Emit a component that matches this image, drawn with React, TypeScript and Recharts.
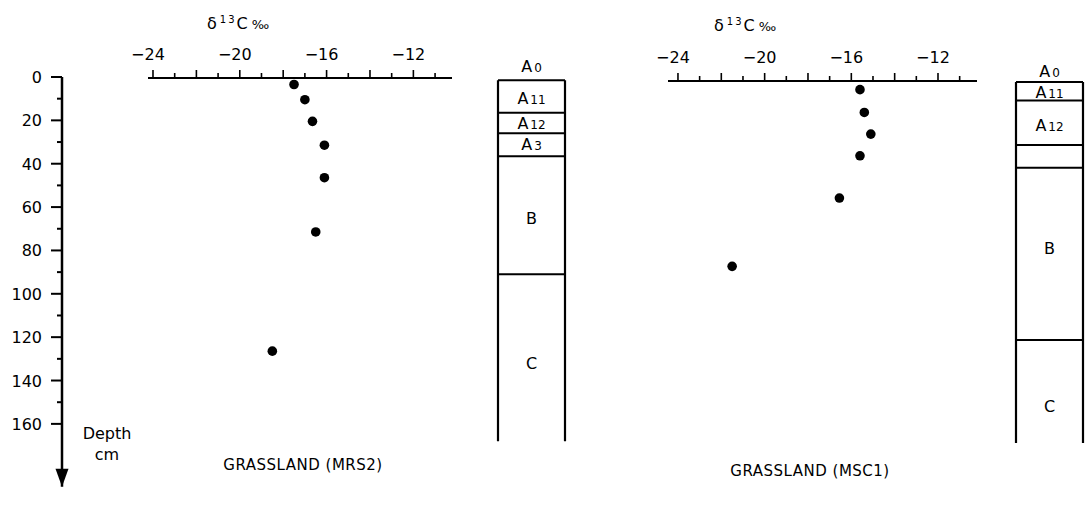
import React from 'react';
import { ScatterChart, Scatter, XAxis, YAxis, ReferenceLine } from 'recharts';

const FONT = '"DejaVu Sans", Arial, sans-serif';

// axes
const isotopeTicks = [-24, -23, -22, -21, -20, -19, -18, -17, -16, -15, -14, -13, -12, -11];
const isotopeLabels = [-24, -20, -16, -12];
const depthTicks = [0, 10, 20, 30, 40, 50, 60, 70, 80, 90, 100, 110, 120, 130, 140, 150, 160];
const depthLabels = [0, 20, 40, 60, 80, 100, 120, 140, 160];

// grassland MRS2
const mrs2Depth = [3, 10, 20, 31, 46, 71, 126];
const mrs2Delta = [-17.5, -17.0, -16.65, -16.1, -16.1, -16.5, -18.5];
const mrs2Bounds = [1.5, 16.5, 26, 36.5, 91];
const mrs2Bottom = 168;
const mrs2LabelNames = ['A0', 'A11', 'A12', 'A3', 'B', 'C'];
const mrs2LabelDepths = [-5, 9.7, 21, 31, 65, 132];

// grassland MSC1
const msc1Depth = [4, 14.5, 24.5, 34.5, 54, 85.5];
const msc1Delta = [-15.6, -15.4, -15.1, -15.6, -16.55, -21.5];
const msc1Bounds = [0.5, 9, 29.5, 40, 119.5];
const msc1Bottom = 167;
const msc1LabelNames = ['A0', 'A11', 'A12', 'B', 'C'];
const msc1LabelDepths = [-4.5, 5, 20.5, 77, 150];

const W = 1085;
const H = 506;
const PX = 2.168; // px per cm
const DEPTH_MAX = 189;
const PLOT_H = DEPTH_MAX * PX;
const BOX_MIN = -12;

const XTick = (props: any) => {
    const { x, y, payload } = props;
    const v = payload.value;
    const len = v % 2 === 0 ? 8 : 5;
    const labelled = isotopeLabels.includes(v);
    return (
        <g>
            <line x1={x} x2={x} y1={y} y2={y - len} stroke="#000" strokeWidth={1.6} />
            {labelled && (
                <text x={x - 5} y={y - 18} textAnchor="middle" fontSize={16} fontFamily={FONT} fill="#000">
                    {'\u2212' + Math.abs(v)}
                </text>
            )}
        </g>
    );
};

const DepthTick = (props: any) => {
    const { x, y, payload } = props;
    const v = payload.value;
    const labelled = depthLabels.includes(v);
    return (
        <g>
            <line x1={x - (labelled ? 11 : 5)} x2={x} y1={y} y2={y} stroke="#000" strokeWidth={2} />
            {labelled && (
                <text x={x - 20} y={y + 6} textAnchor="end" fontSize={16} fontFamily={FONT} fill="#000">
                    {v}
                </text>
            )}
        </g>
    );
};

function DepthAxis() {
    const zeroY = 77;
    return (
        <div style={{ position: 'absolute', left: 0, top: 0 }}>
            <ScatterChart width={140} height={H} margin={{ top: zeroY, left: 0, right: 10, bottom: H - zeroY - PLOT_H }}>
                <XAxis type="number" dataKey="x" domain={[0, 1]} hide height={0} />
                <YAxis
                    type="number"
                    dataKey="depth"
                    domain={[0, DEPTH_MAX]}
                    reversed
                    width={62}
                    ticks={depthTicks}
                    interval={0}
                    tick={DepthTick}
                    tickSize={0}
                    tickMargin={0}
                    tickLine={false}
                    axisLine={{ stroke: '#000', strokeWidth: 2.5 }}
                />
                <Scatter
                    data={[{ x: 0, depth: DEPTH_MAX }]}
                    isAnimationActive={false}
                    shape={(p: any) => (
                        <polygon points={`${p.cx - 6.5},${p.cy - 18} ${p.cx + 6.5},${p.cy - 18} ${p.cx},${p.cy}`} fill="#000" />
                    )}
                />
            </ScatterChart>
        </div>
    );
}

function ProfilePanel({ chartLeft, chartWidth, plotLeft, plotRight, zeroY, domain, depth, delta }: any) {
    const data = depth.map((d: number, i: number) => ({ depth: d, delta: delta[i] }));
    return (
        <div style={{ position: 'absolute', left: chartLeft, top: 0 }}>
            <ScatterChart
                width={chartWidth}
                height={H}
                margin={{ top: zeroY - 30, left: plotLeft - chartLeft, right: chartLeft + chartWidth - plotRight, bottom: H - zeroY - PLOT_H }}
            >
                <XAxis
                    type="number"
                    dataKey="delta"
                    orientation="top"
                    height={30}
                    domain={domain}
                    allowDataOverflow
                    ticks={isotopeTicks}
                    interval={0}
                    tick={XTick}
                    tickSize={0}
                    tickMargin={0}
                    tickLine={false}
                    axisLine={{ stroke: '#000', strokeWidth: 2 }}
                />
                <YAxis type="number" dataKey="depth" domain={[0, DEPTH_MAX]} reversed hide width={0} allowDataOverflow />
                <Scatter
                    data={data}
                    isAnimationActive={false}
                    shape={(p: any) => <circle cx={p.cx} cy={p.cy} r={4.8} fill="#000" />}
                />
            </ScatterChart>
        </div>
    );
}

function HorizonBox({ chartLeft, boxLeft, boxRight, zeroY, bounds, bottom, names, labelDepths }: any) {
    const chartWidth = boxRight - chartLeft + 20;
    const top = zeroY + BOX_MIN * PX;
    const plotH = (DEPTH_MAX - BOX_MIN) * PX;
    const labels = names.map((n: string, i: number) => ({ name: n, x: 0.5, depth: labelDepths[i] }));
    return (
        <div style={{ position: 'absolute', left: chartLeft, top: 0 }}>
            <ScatterChart
                width={chartWidth}
                height={H}
                margin={{ top, left: boxLeft - chartLeft, right: chartLeft + chartWidth - boxRight, bottom: H - top - plotH }}
            >
                <XAxis type="number" dataKey="x" domain={[0, 1]} hide height={0} />
                <YAxis type="number" dataKey="depth" domain={[BOX_MIN, DEPTH_MAX]} reversed hide width={0} />
                {bounds.map((b: number, i: number) => (
                    <ReferenceLine key={'h' + i} segment={[{ x: 0, y: b }, { x: 1, y: b }]} stroke="#000" strokeWidth={2} />
                ))}
                <ReferenceLine segment={[{ x: 0, y: bounds[0] }, { x: 0, y: bottom }]} stroke="#000" strokeWidth={2.2} />
                <ReferenceLine segment={[{ x: 1, y: bounds[0] }, { x: 1, y: bottom }]} stroke="#000" strokeWidth={2.2} />
                <Scatter
                    data={labels}
                    isAnimationActive={false}
                    shape={(p: any) => {
                        const name: string = p.payload.name;
                        const head = name.slice(0, 1);
                        const rest = name.slice(1);
                        return (
                            <text x={p.cx} y={p.cy + 6} textAnchor="middle" fontFamily={FONT} fill="#000">
                                <tspan fontSize={16}>{head}</tspan>
                                {rest && <tspan fontSize={12} dx={2}>{rest}</tspan>}
                            </text>
                        );
                    }}
                />
            </ScatterChart>
        </div>
    );
}

function Title({ left, top }: { left: number; top: number }) {
    return (
        <div style={{ position: 'absolute', left, top, fontFamily: FONT, fontSize: 16, lineHeight: '20px', whiteSpace: 'nowrap' }}>
            δ<span style={{ fontSize: 10, verticalAlign: 6, letterSpacing: 2, marginLeft: 3 }}>13</span>C
            <span style={{ fontSize: 13, marginLeft: 4 }}>‰</span>
        </div>
    );
}

export default function App() {
    return (
        <div style={{ position: 'absolute', left: 0, top: 0, width: W, height: H, background: '#fff', overflow: 'hidden' }}>
            <DepthAxis />
            <ProfilePanel
                chartLeft={100}
                chartWidth={380}
                plotLeft={148}
                plotRight={452}
                zeroY={78}
                domain={[-24.23, -10.22]}
                depth={mrs2Depth}
                delta={mrs2Delta}
            />
            <HorizonBox
                chartLeft={470}
                boxLeft={498}
                boxRight={565}
                zeroY={77}
                bounds={mrs2Bounds}
                bottom={mrs2Bottom}
                names={mrs2LabelNames}
                labelDepths={mrs2LabelDepths}
            />
            <ProfilePanel
                chartLeft={620}
                chartWidth={380}
                plotLeft={668}
                plotRight={977}
                zeroY={81}
                domain={[-24.46, -10.2]}
                depth={msc1Depth}
                delta={msc1Delta}
            />
            <HorizonBox
                chartLeft={990}
                boxLeft={1016}
                boxRight={1083}
                zeroY={81}
                bounds={msc1Bounds}
                bottom={msc1Bottom}
                names={msc1LabelNames}
                labelDepths={msc1LabelDepths}
            />
            <Title left={207} top={10} />
            <Title left={714} top={12} />
            <div style={{ position: 'absolute', left: 77, top: 423, width: 60, textAlign: 'center', fontFamily: FONT, fontSize: 16, lineHeight: '21px' }}>
                Depth
                <br />
                cm
            </div>
            <div style={{ position: 'absolute', left: 153, top: 456, width: 300, textAlign: 'center', fontFamily: FONT, fontSize: 15, letterSpacing: 0.5 }}>
                GRASSLAND (MRS2)
            </div>
            <div style={{ position: 'absolute', left: 660, top: 462, width: 300, textAlign: 'center', fontFamily: FONT, fontSize: 15, letterSpacing: 0.5 }}>
                GRASSLAND (MSC1)
            </div>
        </div>
    );
}
